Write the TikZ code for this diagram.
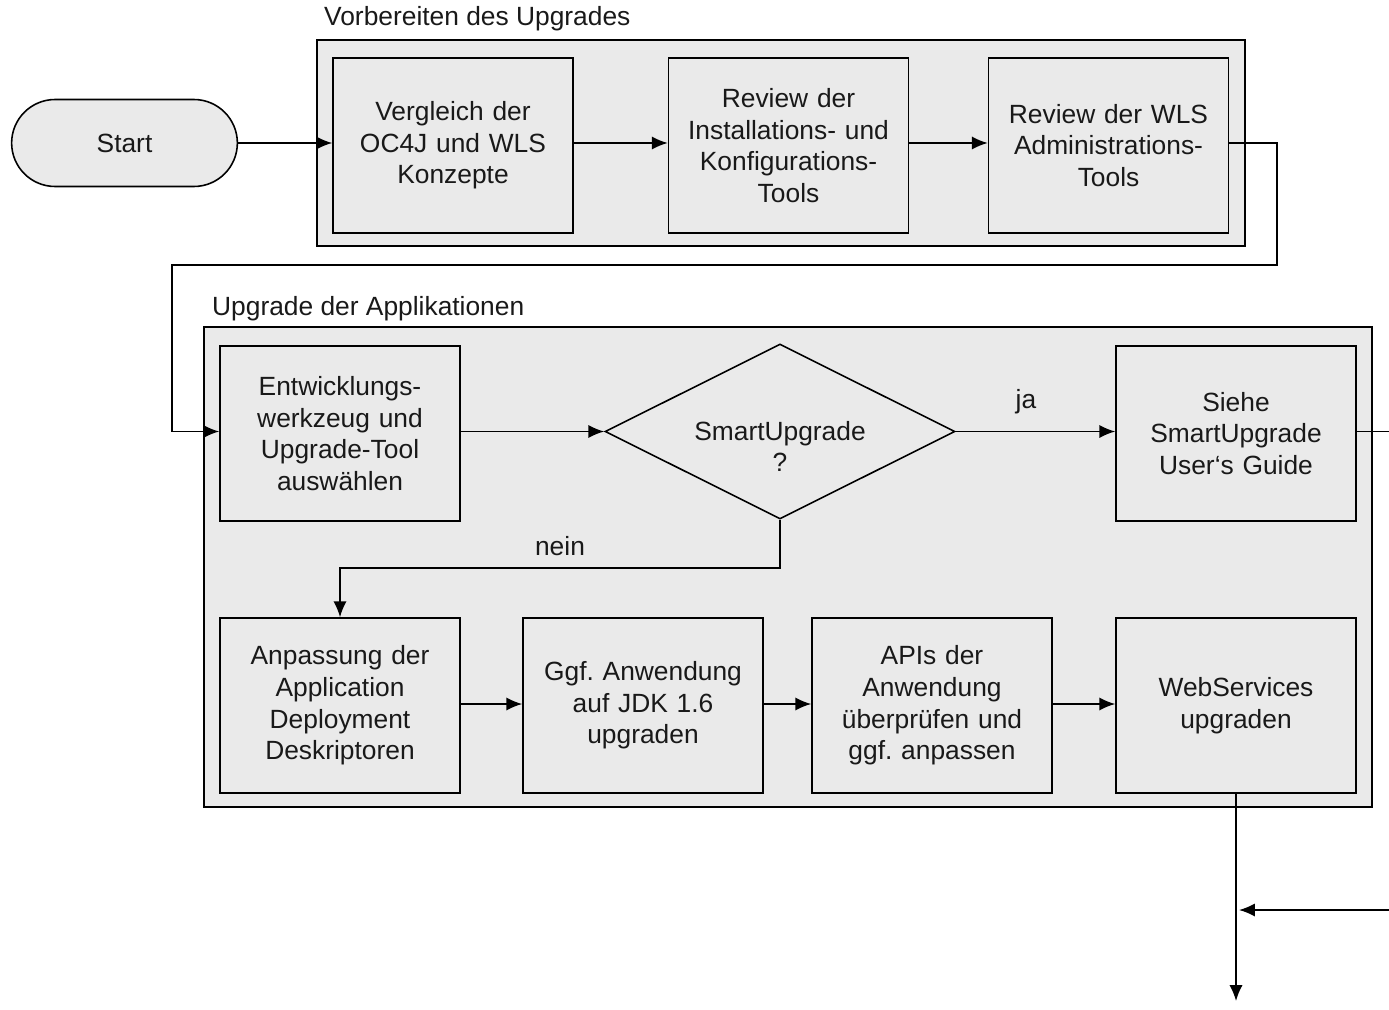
\documentclass[tikz,border=0pt]{standalone}
\usepackage{fontspec}
\setmainfont{Liberation Sans}
\frenchspacing
\usetikzlibrary{shapes.geometric,shapes.misc,arrows.meta}

\definecolor{boxgray}{HTML}{EAEAEA}
\tikzset{
  every node/.style={font=\fontsize{15}{18}\selectfont, text=black!90},
  stepbox/.style={draw, rectangle, fill=boxgray, line width=0.9pt, minimum width=4.8cm, minimum height=3.5cm, text width=4.4cm, align=center, inner sep=0pt},
  groupframe/.style={draw, fill=boxgray, line width=0.9pt},
  flow/.style={->, >={Latex[length=9pt,width=7.5pt]}, line width=1pt}
}

\begin{document}
\begin{tikzpicture}[x=0.02cm,y=-0.02cm]
			\useasboundingbox (0,0) rectangle (1389,1010);
			% Gruppen
			\draw[groupframe] (317,40) rectangle (1245,246);
			\node[anchor=base west] (GrpVor) at (318,26) {Vorbereiten des Upgrades};
			\draw[groupframe] (204,327) rectangle (1372,807);
			\node[anchor=base west] (GrpUpg) at (206,315) {Upgrade der Applikationen};
			% Start und Vorbereitung
			\node[draw,rounded rectangle,fill=boxgray,line width=0.9pt,minimum width=4.75cm,minimum height=1.74cm] (Start) at (124.5,143) {Start};
			\node[stepbox] (Vergl) at (453,145.5) {Vergleich der\\OC4J und WLS\\Konzepte};
			\node[stepbox] (RevInst) at (788.5,145.5) {Review der\\Installations- und\\Konfigurations-\\Tools};
			\node[stepbox] (RevAdm) at (1108.5,145.5) {Review der WLS\\Administrations-\\Tools};
			% Upgrade der Applikationen
			\node[stepbox] (EntwTool) at (340,433.5) {Entwicklungs-\\werkzeug und\\Upgrade-Tool\\ausw\"ahlen};
			\node[draw,diamond,aspect=2,fill=boxgray,line width=0.9pt,minimum width=7cm,minimum height=3.5cm,inner sep=0pt] (Smart) at (780,431.5) {\raisebox{-14pt}[0pt][0pt]{\begin{tabular}{@{}c@{}}SmartUpgrade\\?\end{tabular}}};
			\node[stepbox] (Guide) at (1236,433.5) {Siehe\\SmartUpgrade\\User`s Guide};
			\node[stepbox] (Deskr) at (340,705.5) {Anpassung der\\Application\\Deployment\\Deskriptoren};
			\node[stepbox] (JDK) at (643,705.5) {Ggf. Anwendung\\auf JDK 1.6\\upgraden};
			\node[stepbox] (APIs) at (932,705.5) {APIs der\\Anwendung\\\"uberpr\"ufen und\\ggf. anpassen};
			\node[stepbox] (WebSrv) at (1236,705.5) {WebServices\\upgraden};
			\coordinate (GuideOut) at (1389,431.5);
			\coordinate (Rueck) at (1389,910);
			\coordinate (Ende) at (1236,1001);
			% Verbindungen
			\draw[flow] (Start.east) -- (Vergl.west |- Start.east);
			\draw[flow] (Vergl.east |- Start.east) -- (RevInst.west |- Start.east);
			\draw[flow] (RevInst.east |- Start.east) -- (RevAdm.west |- Start.east);
			\draw[flow] (RevAdm.east |- Start.east) -- ++(48,0) |- (172,265) |- (EntwTool.west |- Smart);
			\draw[flow] (EntwTool.east |- Smart) -- (Smart);
			\draw[flow] (Smart) -- node[above=6pt,pos=0.44] (Ja) {ja} (Guide.west |- Smart);
			\draw[line width=1pt] (Guide.east |- Smart) -- (GuideOut);
			\draw[flow] (Smart.south) |- node[above=3pt,pos=0.75] (Nein) {nein} (340,568) -- (Deskr.north);
			\draw[flow] (Deskr.east |- 0,704) -- (JDK.west |- 0,704);
			\draw[flow] (JDK.east |- 0,704) -- (APIs.west |- 0,704);
			\draw[flow] (APIs.east |- 0,704) -- (WebSrv.west |- 0,704);
			\draw[flow] (WebSrv.south) -- (Ende);
			\draw[flow] (Rueck) -- (1239,910);
		\end{tikzpicture}
\end{document}
